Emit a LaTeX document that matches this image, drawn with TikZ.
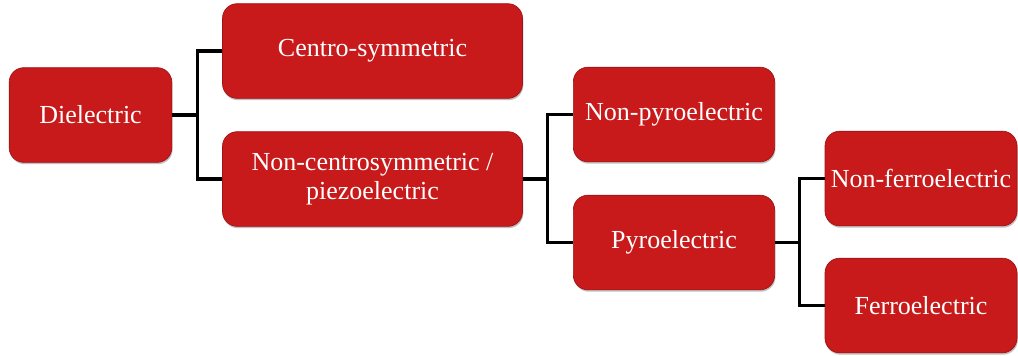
\documentclass[tikz,border=0pt]{standalone}
\usepackage{fontspec}
\setmainfont{Liberation Serif}
\usepackage{tikz}
\usetikzlibrary{
arrows.meta,
positioning,
calc,
shadows
}
\definecolor{BoxRed}{HTML}{C8191B}
\definecolor{EdgeRed}{HTML}{9E1416}
\definecolor{LinkBlack}{HTML}{000000}

\begin{document}
\begin{tikzpicture}[x=0.75pt,y=-0.75pt,
    every node/.style={font=\fontsize{19.5}{22}\selectfont},
    classbox/.style={fill=BoxRed, draw=EdgeRed, line width=0.5pt, rounded corners=11pt,
        text=white, align=center, inner sep=0pt, minimum height=71pt,
        drop shadow={shadow xshift=0.6pt, shadow yshift=-1.4pt, opacity=0.35, fill=black!70}},
    link/.style={LinkBlack, line width=2.3pt}]
        \useasboundingbox (0,0) rectangle (1018,355);

        \node[classbox, minimum width=122pt] (diel) at (90.5,115) {Dielectric};
        \node[classbox, minimum width=225pt] (centro) at (372.5,51) {Centro-symmetric};
        \node[classbox, minimum width=225pt] (noncentro) at (372.5,179) {Non-centrosymmetric /\\piezoelectric};
        \node[classbox, minimum width=151pt] (nonpyro) at (674,114.5) {Non-pyroelectric};
        \node[classbox, minimum width=151pt] (pyro) at (674,242.5) {Pyroelectric};
        \node[classbox, minimum width=144pt] (nonferro) at (921,178.5) {Non-ferroelectric};
        \node[classbox, minimum width=144pt] (ferro) at (921,305.5) {Ferroelectric};

        % branch lines
        \draw[link] (diel.east) -- ($(diel.east)!0.5!(centro.west |- diel.east)$) coordinate (j1);
        \draw[link] (centro.west) -| (j1) |- (noncentro.west);

        \draw[link] (noncentro.east) -- ($(noncentro.east)!0.5!(nonpyro.west |- noncentro.east)$) coordinate (j2);
        \draw[link] (nonpyro.west) -| (j2) |- (pyro.west);

        \draw[link] (pyro.east) -- ($(pyro.east)!0.5!(nonferro.west |- pyro.east)$) coordinate (j3);
        \draw[link] (nonferro.west) -| (j3) |- (ferro.west);
    \end{tikzpicture}
\end{document}
